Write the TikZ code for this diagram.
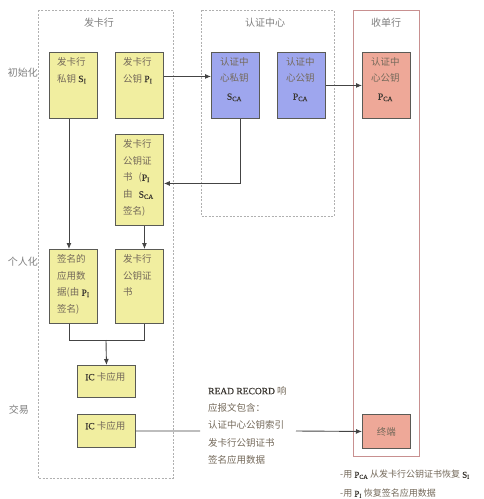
\documentclass[tikz,border=0pt]{standalone}
\usepackage{fontspec}
\setmainfont{Noto Sans CJK SC}
\newfontfamily\lat[FakeBold=0.6]{Liberation Serif}
\usetikzlibrary{arrows.meta}
\definecolor{yel}{HTML}{F1EEA0}
\definecolor{blu}{HTML}{9EA6EE}
\definecolor{sal}{HTML}{EEA898}
\definecolor{boxline}{HTML}{5A5A55}
\definecolor{txtc}{HTML}{74695A}
\definecolor{latc}{HTML}{3A3630}
\definecolor{headc}{HTML}{808080}
\definecolor{arrc}{HTML}{444444}
\definecolor{dashc}{HTML}{B0B0B0}
\definecolor{redc}{HTML}{C89090}
\newcommand\kL[1]{{\lat\color{latc}#1}}
\newcommand\kS[1]{{\lat\color{latc}S\textsubscript{#1}}}
\newcommand\kP[1]{{\lat\color{latc}P\textsubscript{#1}}}
\begin{document}
\begin{tikzpicture}[x=1pt,y=-1pt,
  kbox/.style={draw=boxline, line width=0.9pt, minimum width=48pt, inner sep=0pt, anchor=north west},
  ybox/.style={kbox, fill=yel},
  bbox/.style={kbox, fill=blu},
  sbox/.style={kbox, fill=sal},
  txt/.style={anchor=north west, align=left, inner sep=0pt, text=txtc, font=\fontsize{9.5}{16.8}\selectfont},
  head/.style={text=headc, inner sep=0pt, font=\fontsize{10}{12}\selectfont},
  frame/.style={draw=dashc, line width=0.7pt, dash pattern=on 2pt off 1.5pt},
  arr/.style={draw=arrc, line width=0.9pt, -{Latex[length=6pt,width=5pt]}},
  ln/.style={draw=arrc, line width=0.9pt}]
\useasboundingbox[fill=white] (0,0) rectangle (484,499);

% frames
\draw[frame] (38,10) rectangle (173,478);
\draw[frame] (201,10) rectangle (334,216);
\draw[draw=redc, line width=0.9pt] (353,10) rectangle (419,456);

\node[head] (h1) at (99,23) {发卡行};
\node[head] (h2) at (265,23) {认证中心};
\node[head] (h3) at (386,23) {收单行};

\node[head] (r1) at (23,73) {初始化};
\node[head] (r2) at (23,262) {个人化};
\node[head] (r3) at (19,410) {交易};

% boxes
\node[ybox, minimum height=66pt] (SI) at (49,52) {};
\node[ybox, minimum height=66pt] (PI) at (115,52) {};
\node[bbox, minimum height=66pt] (SCA) at (211,52) {};
\node[bbox, minimum height=66pt] (PCA) at (277,52) {};
\node[sbox, minimum height=66pt] (PCA2) at (362,52) {};
\node[ybox, minimum height=91pt] (cert) at (115,134) {};
\node[ybox, minimum height=74pt] (signed) at (49,249) {};
\node[ybox, minimum height=74pt] (cert2) at (115,249) {};
\node[ybox, minimum width=58pt, minimum height=32pt] (IC1) at (77,365) {};
\node[ybox, minimum width=58pt, minimum height=33pt] (IC2) at (77,414) {};
\node[sbox, minimum height=34pt] (term) at (362,414) {};

% box texts
\node[txt] (tSI) at (57,57) {发卡行\\私钥 \kS{I}};
\node[txt] (tPI) at (123,57) {发卡行\\公钥 \kP{I}};
\node[txt, align=center] (tSCA) at (220,57) {认证中\\心私钥\\[1pt]\kS{CA}};
\node[txt, align=center] (tPCA) at (286,57) {认证中\\心公钥\\[1pt]\kP{CA}};
\node[txt, align=center] (tPCA2) at (371,57) {认证中\\心公钥\\[1pt]\kP{CA}};
\node[txt] (tcert) at (123,139) {发卡行\\公钥证\\书\hspace{6pt}(\kP{I}\\由\hspace{6pt}\kS{CA}\\签名)};
\node[txt] (tsigned) at (57,254) {签名的\\应用数\\据(由 \kP{I}\\签名)};
\node[txt] (tcert2) at (123,254) {发卡行\\公钥证\\书};
\node[txt] (tIC1) at (85,372) {\kL{IC} 卡应用};
\node[txt] (tIC2) at (85,421) {\kL{IC} 卡应用};
\node[txt, anchor=center] (tterm) at (term.center) {终端};

% message text
\node[txt, font=\fontsize{9.5}{17.3}\selectfont] (msg) at (208,386) {\kL{READ RECORD} 响\\应报文包含：\\认证中心公钥索引\\发卡行公钥证书\\签名应用数据};

% notes
\node[txt, font=\fontsize{9}{19}\selectfont] (notes) at (340,470) {-用 \kP{CA} 从发卡行公钥证书恢复 \kS{I}\\-用 \kP{I} 恢复签名应用数据};

% connectors
\draw[arr] ([yshift=9pt]PI.east) -- ([yshift=9pt]SCA.west);
\draw[arr] (PCA.east) -- (PCA2.west);
\draw[arr] ([xshift=4.5pt]SCA.south) |- ([yshift=-3.5pt]cert.east);
\draw[arr] ([xshift=-4.5pt]SI.south) -- ([xshift=-4.5pt]signed.north);
\draw[arr] ([xshift=5pt]cert.south) -- ([xshift=5pt]cert2.north);
\coordinate (j) at (106,340);
\draw[ln] ([xshift=-4.5pt]signed.south) |- (j);
\draw[ln] ([xshift=5pt]cert2.south) |- (j);
\draw[arr] (j) -- (IC1.north);
\coordinate (m1) at (200,431);
\draw[ln] (IC2.east) -- (m1);
\coordinate (m2) at (296,431);
\draw[arr] (m2) -- (term.west);
\end{tikzpicture}
\end{document}
